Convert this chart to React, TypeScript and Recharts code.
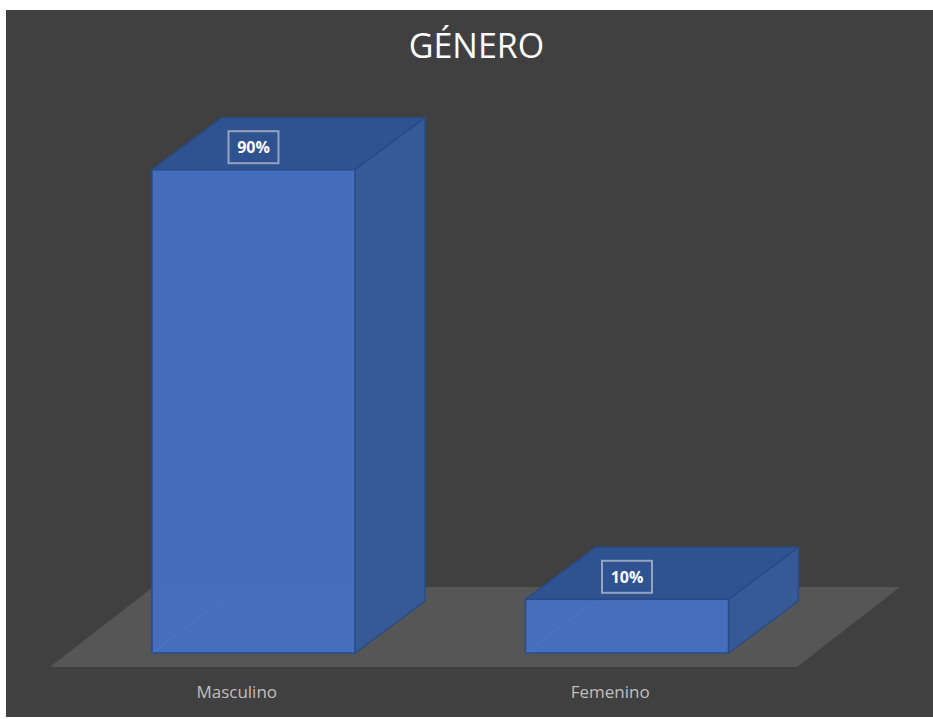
import React from "react";
import { BarChart, Bar, XAxis, YAxis, ReferenceArea, LabelList } from "recharts";

const categories = ["Masculino", "Femenino"];
const percentages = [90, 10];
const yTicks = [0, 100];

const data = categories.map((name, i) => ({ name, value: percentages[i] }));

const W = 927;
const H = 707;
const DX = 70;
const DY = -52;

const FRONT = "#4470C0";
const TOP = "#2F5290";
const SIDE = "#375A97";
const EDGE = "#284C88";

const Box3D = (props: any) => {
  const { x, y, width: w, height: h } = props;
  if (w == null || h == null) return null;
  const top = `${x},${y} ${x + w},${y} ${x + w + DX},${y + DY} ${x + DX},${y + DY}`;
  const side = `${x + w},${y} ${x + w + DX},${y + DY} ${x + w + DX},${y + h + DY} ${x + w},${y + h}`;
  return (
    <g>
      <polygon points={side} fill={SIDE} stroke={EDGE} strokeWidth={1.5} strokeLinejoin="round" />
      <polygon points={top} fill={TOP} stroke={EDGE} strokeWidth={1.5} strokeLinejoin="round" />
      <rect x={x} y={y} width={w} height={h} fill={FRONT} fillOpacity={0.97} stroke={EDGE} strokeWidth={1.5} />
      <line x1={x} y1={y + h} x2={x + DX} y2={y + h + DY} stroke="#5a86d0" strokeOpacity={0.35} strokeWidth={1} />
    </g>
  );
};

const Floor = (props: any) => {
  const { x, y, width, height } = props;
  if (x == null) return null;
  const bottom = y + height;
  const fy = bottom + 14;
  const by = bottom - 66;
  const pts = `${x - 17},${fy} ${x + width - 17},${fy} ${x + width + 86},${by} ${x + 86},${by}`;
  return <polygon points={pts} fill="#575656" />;
};

const ValueBox = (props: any) => {
  const { x, y, width, value } = props;
  const cx = x + width / 2;
  const cy = y - 22.5;
  return (
    <g>
      <rect x={cx - 25} y={cy - 16} width={50} height={32} fill={TOP} stroke="#a7b3c9" strokeOpacity={0.85} strokeWidth={2} />
      <text x={cx} y={cy + 6} textAnchor="middle" fill="#ffffff" fontFamily="Open Sans" fontWeight={700} fontSize={16}>
        {`${value}%`}
      </text>
    </g>
  );
};

export default function App() {
  return (
    <div style={{ position: "absolute", left: 6, top: 10, width: W, height: H, background: "#404040" }}>
      <BarChart
        width={W}
        height={H}
        data={data}
        margin={{ top: 106, right: 119, bottom: 34, left: 61 }}
      >
        <XAxis
          dataKey="name"
          axisLine={false}
          tickLine={false}
          tickSize={0}
          tickMargin={33}
          height={30}
          tick={{ fill: "#bfbfbf", fontSize: 17, fontFamily: "Open Sans", dx: -17 }}
        />
        <YAxis hide domain={[0, 100]} ticks={yTicks} />
        <ReferenceArea y1={0} y2={100} shape={Floor} ifOverflow="visible" />
        <Bar dataKey="value" barSize={203} shape={Box3D} isAnimationActive={false}>
          <LabelList dataKey="value" content={ValueBox} />
        </Bar>
      </BarChart>
      <svg width={W} height={80} style={{ position: "absolute", left: 0, top: 0, pointerEvents: "none" }}>
        <text x={470.5} y={48} textAnchor="middle" fill="#ffffff" fontFamily="Open Sans" fontSize={34}>
          GÉNERO
        </text>
      </svg>
    </div>
  );
}
